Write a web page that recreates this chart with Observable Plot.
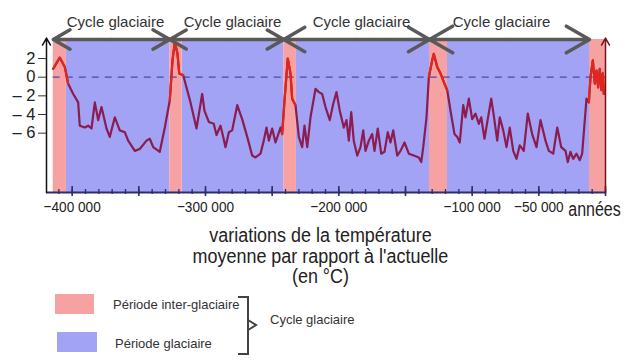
<!DOCTYPE html>
<html><head><meta charset="utf-8">
<script src="https://cdn.jsdelivr.net/npm/d3@7"></script>
<script src="https://cdn.jsdelivr.net/npm/@observablehq/plot@0.6"></script>
<style>
body{margin:0;background:#fff;font-family:"Liberation Sans",Arial,sans-serif;}
#wrap{position:relative;width:643px;height:364px;overflow:hidden;background:#fff;}
#chart{position:absolute;left:0;top:0;}
.abs{position:absolute;white-space:nowrap;}
</style></head><body><div id="wrap"><div id="chart"></div></div>
<script>
// ---- data ----
const years = [-414200,-409300,-405500,-403000,-399200,-395500,-394300,-390500,-388000,-385500,-383000,-380500,-378000,-374250,-371800,-368000,-364300,-360500,-358000,-353000,-349300,-344250,-341800,-339200,-334300,-330500,-326800,-324750,-323000,-321000,-319700,-316700,-315000,-311250,-306750,-302500,-300750,-297500,-293800,-291750,-288750,-286700,-285000,-282500,-280000,-276200,-272500,-268700,-265000,-262500,-258750,-256300,-254250,-252500,-250000,-247500,-243750,-242500,-240750,-238300,-236250,-235000,-232500,-230000,-227500,-225750,-223700,-221250,-217500,-215000,-212500,-210000,-206800,-204200,-201750,-199300,-196300,-194250,-192500,-190700,-188800,-186200,-183750,-181700,-180000,-177500,-175000,-173250,-170800,-168200,-165750,-163300,-161250,-159200,-156200,-153750,-150750,-147500,-143800,-140000,-138200,-136700,-134250,-132500,-130000,-128800,-126200,-123750,-121300,-118700,-116250,-113250,-111200,-109300,-106700,-105000,-102500,-100000,-97500,-95000,-93200,-90750,-88300,-85700,-83800,-81200,-79300,-76700,-74250,-71800,-69200,-66750,-64300,-61300,-58300,-55000,-51750,-48750,-45000,-42500,-39200,-36200,-33200,-30000,-28300,-26250,-24200,-21750,-19300,-17500,-15750,-14250,-12500,-11250,-9500,-8000,-6750,-5500,-4300,-3000,-2000,-1300];
const temps = [0.9,2.1,1.1,-0.7,-1.8,-2.7,-5.2,-5.4,-5.2,-5.5,-2.7,-4.6,-3.2,-5.5,-6.4,-4.3,-5.7,-5.9,-6.8,-7.9,-7.7,-6.8,-6.6,-7.5,-8.0,-5.4,-2.5,1.8,3.75,2.5,0.4,0.2,-0.7,-2.7,-5.5,-1.8,-3.6,-4.8,-5.0,-6.2,-5.2,-6.4,-7.5,-5.9,-5.7,-3.0,-4.5,-6.4,-8.4,-8.6,-8.2,-6.8,-5.4,-6.8,-5.5,-7.0,-5.4,-6.1,-2.5,2.0,0.4,-2.3,-3.0,-6.4,-7.5,-5.2,-7.5,-4.3,-1.25,-1.6,-1.8,-3.2,-4.6,-2.85,-1.6,-3.6,-5.4,-4.6,-6.8,-3.75,-6.8,-8.4,-7.5,-5.7,-7.9,-6.8,-6.1,-7.9,-5.5,-8.2,-8.0,-5.9,-7.0,-5.7,-8.4,-7.9,-7.0,-8.2,-8.4,-8.6,-9.1,-7.5,-4.3,0.0,1.8,2.5,1.1,0.4,-0.5,-1.4,-3.6,-6.1,-6.4,-7.0,-3.0,-4.3,-2.3,-4.5,-3.9,-5.0,-4.3,-6.6,-4.5,-2.3,-4.1,-6.8,-4.3,-5.7,-7.5,-5.4,-7.9,-8.75,-7.3,-7.9,-3.9,-6.1,-7.5,-4.6,-6.8,-7.9,-8.2,-5.4,-7.5,-7.9,-9.1,-8.0,-8.75,-8.2,-8.9,-8.2,-5.0,-2.3,-2.7,0.0,1.8,-0.7,0.7,-1.1,0.9,-1.4,0.4,-1.8];
const interglacial = [[-414200,-404300],[-326800,-317500],[-241300,-231800],[-132000,-118500],[-12000,0]];
const glacial = [[-404300,-326800],[-317500,-241300],[-231800,-132000],[-118500,-12000]];
const cycles = [[-414200,-326800],[-326800,-241300],[-241300,-132000],[-132000,-12000]];
const cycleLabels = ["Cycle glaciaire","Cycle glaciaire","Cycle glaciaire","Cycle glaciaire"];
const cycleLabelYears = [-367500,-279750,-183000,-78000];
const yTicks = [2,0,-2,-4,-6];
const yLabels = ["2","0","\u2013 2","\u2013 4","\u2013 6"];
const xLabelValues = [-400000,-300000,-200000,-100000,-50000];
const xLabels = ["\u2212400 000","\u2212300 000","\u2212200 000","\u2212100 000","\u221250 000"];
const xMajor = [-400000,-350000,-300000,-250000,-200000,-150000,-100000,-50000,0];
const xMinor = d3.range(-410000, 1, 10000);
const xUnit = "ann\u00e9es";

// ---- styles ----
const xDomain = [-419250, 0];
const yDomain = [-12.36, 4.04];
const pink = "#f6a2a2", blue = "#a3a3f6";
const navy = "#2c2c6e";

const data = years.map((y, i) => ({year: y, temp: temps[i]}));
const redParts = [];
interglacial.forEach(([a, b], k) => {
  data.forEach(d => { if (d.year >= a - 1500 && d.year <= b + 1500) redParts.push({...d, k}); });
});
const mid = d => (d[0] + d[1]) / 2;

const chart = Plot.plot({
  width: 643, height: 225,
  marginTop: 39, marginBottom: 33, marginLeft: 46, marginRight: 38,
  x: {domain: xDomain, axis: null},
  y: {domain: yDomain, axis: null},
  style: {background: "transparent", fontFamily: '"Liberation Sans",Arial,sans-serif', color: "#222"},
  marks: [
    Plot.rect(glacial, {x1: d => d[0], x2: d => d[1], fill: blue}),
    Plot.rect(interglacial, {x1: d => d[0], x2: d => d[1], fill: pink}),
    Plot.ruleY([0], {x1: () => interglacial[0][0], x2: () => 0, stroke: "#4b4ba6", strokeWidth: 1.2, strokeDasharray: "7,6"}),
    Plot.line(data, {x: "year", y: "temp", stroke: "#8a1c50", strokeWidth: 2.2}),
    Plot.line(redParts, {x: "year", y: "temp", z: "k", stroke: "#e3261c", strokeWidth: 2.2}),
    Plot.arrow(cycles, {x1: mid, x2: d => d[0], y1: () => yDomain[1], y2: () => yDomain[1], stroke: "#595959", strokeWidth: 3.5, headLength: 13}),
    Plot.arrow(cycles, {x1: mid, x2: d => d[1], y1: () => yDomain[1], y2: () => yDomain[1], stroke: "#595959", strokeWidth: 3.5, headLength: 13}),
    Plot.text(cycleLabelYears, {x: d => d, y: () => yDomain[1], dy: -17, text: (d, i) => cycleLabels[i], fontSize: 15, fill: "#333"}),
    Plot.ruleY([yDomain[0]], {stroke: navy, strokeWidth: 2}),
    Plot.axisX(xMinor, {label: null, tickSize: -3, tickFormat: () => "", stroke: navy, strokeWidth: 1.3}),
    Plot.axisX(xMinor, {label: null, tickSize: 2, tickFormat: () => "", stroke: navy, strokeWidth: 1.3}),
    Plot.axisX(xMajor, {label: null, tickSize: -6, tickFormat: () => "", stroke: navy, strokeWidth: 1.6}),
    Plot.axisX(xMajor, {label: null, tickSize: 4, tickFormat: () => "", stroke: navy, strokeWidth: 1.6}),
    Plot.axisX(xLabelValues, {label: null, tickSize: 0, tickPadding: 8, tickFormat: d => xLabels[xLabelValues.indexOf(d)], fontSize: 15.5, fill: "#222"}),
    Plot.text([xUnit], {x: () => xDomain[1], y: () => yDomain[0], dx: -11, dy: 17, text: d => d, fontSize: 20, fill: "#222"}),
    Plot.axisY(yTicks, {label: null, tickSize: 8, tickPadding: 3, tickFormat: d => yLabels[yTicks.indexOf(d)], fontSize: 16.5, stroke: "#333", fill: "#222"}),
    Plot.arrow([xDomain[0]], {x1: d => d, x2: d => d, y1: () => yDomain[0], y2: () => yDomain[1] + 0.15, stroke: "#111", strokeWidth: 1.5, headLength: 8}),
    Plot.arrow([xDomain[1]], {x1: d => d, x2: d => d, y1: () => yDomain[0], y2: () => yDomain[1] + 0.15, stroke: "#7a1414", strokeWidth: 1.5, headLength: 8})
  ]
});
document.getElementById("chart").appendChild(chart);
// condense x tick labels and unit (narrow typeface look)
const condense = new Map([...xLabels.map(l => [l, 0.88]), [xUnit, 0.8]]);
chart.querySelectorAll("text").forEach(t => {
  const s = condense.get(t.textContent.trim());
  if (!s) return;
  const x = t.getAttribute("x"), y = t.getAttribute("y");
  const tr = t.getAttribute("transform");
  if (tr) {
    t.setAttribute("transform", `${tr} scale(${s},1)`);
  } else {
    t.setAttribute("transform", `translate(${x || 0},${y || 0}) scale(${s},1)`);
    t.removeAttribute("x"); t.removeAttribute("y");
  }
});

// ---- caption & legend ----
const wrap = document.getElementById("wrap");
const titleLines = ["variations de la temp\u00e9rature", "moyenne par rapport \u00e0 l'actuelle", "(en \u00b0C)"];
const title = document.createElement("div");
title.className = "abs";
Object.assign(title.style, {left: "0px", top: "225px", width: "641px", textAlign: "center", fontSize: "19.5px", lineHeight: "20.5px", color: "#222", transform: "scaleX(0.92)", transformOrigin: "320px 0"});
title.innerHTML = titleLines.join("<br>");
wrap.appendChild(title);

const legendItems = [
  {label: "P\u00e9riode inter-glaciaire", color: pink, box: [55, 294, 39, 20], text: [113, 305]},
  {label: "P\u00e9riode glaciaire", color: blue, box: [57, 332, 40, 20], text: [115, 344]}
];
legendItems.forEach(it => {
  const b = document.createElement("div");
  b.className = "abs";
  Object.assign(b.style, {left: it.box[0] + "px", top: it.box[1] + "px", width: it.box[2] + "px", height: it.box[3] + "px", background: it.color});
  wrap.appendChild(b);
  const t = document.createElement("div");
  t.className = "abs";
  Object.assign(t.style, {left: it.text[0] + "px", top: (it.text[1] - 8) + "px", fontSize: "13px", lineHeight: "16px", color: "#333"});
  t.textContent = it.label;
  wrap.appendChild(t);
});
const br = document.createElementNS("http://www.w3.org/2000/svg", "svg");
br.setAttribute("width", "30"); br.setAttribute("height", "64");
br.style.position = "absolute"; br.style.left = "236px"; br.style.top = "294px";
br.innerHTML = '<path d="M2,3 H12 V60 H2 M12,26 L20,31 L12,36" fill="none" stroke="#444" stroke-width="2"/>';
wrap.appendChild(br);
const cyc = document.createElement("div");
cyc.className = "abs";
Object.assign(cyc.style, {left: "270px", top: "312px", fontSize: "13px", lineHeight: "16px", color: "#333"});
cyc.textContent = "Cycle glaciaire";
wrap.appendChild(cyc);
</script>
</body></html>
